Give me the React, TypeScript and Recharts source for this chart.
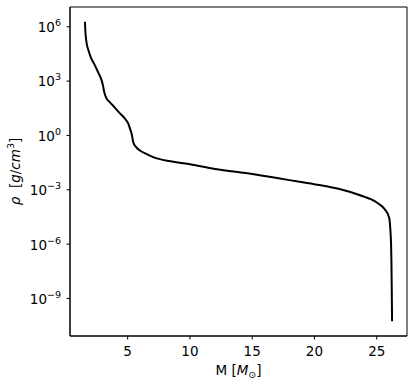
import { LineChart, Line, XAxis, YAxis, ReferenceArea } from 'recharts'

// enclosed mass [M_sun]
const mass = [
  1.57, 1.6, 1.68, 1.85, 2.05, 2.37, 2.65, 2.91, 3.02, 3.12, 3.3, 3.58, 3.95, 4.38, 4.75, 5.05, 5.2,
  5.32, 5.45, 5.65, 5.99, 6.5, 7.06, 8.43, 9.9, 12.0, 15.0, 17.0, 18.8, 20.4, 22.0, 23.6, 25.0,
  25.64, 26.0, 26.1, 26.15, 26.18, 26.2, 26.22, 26.23,
]
// log10 of density [g/cm^3]
const logRho = [
  6.28, 5.8, 5.2, 4.7, 4.3, 3.87, 3.45, 3.04, 2.75, 2.39, 2.05, 1.83, 1.55, 1.22, 0.95, 0.65, 0.35,
  0.09, -0.37, -0.62, -0.83, -1.02, -1.2, -1.43, -1.58, -1.85, -2.13, -2.35, -2.56, -2.74, -2.96,
  -3.29, -3.7, -4.07, -4.54, -5.28, -6.0, -7.0, -8.2, -9.4, -10.25,
]
const xTicks = [5, 10, 15, 20, 25]
const yTickExps = [-9, -6, -3, 0, 3, 6]

const data = mass.map((m, i) => ({ m, rho: Math.pow(10, logRho[i]) }))
const yTicks = yTickExps.map((e) => Math.pow(10, e))

const FONT = 'DejaVu Sans'
const FS = 13.5
const xDomain = [0.37, 27.43]
const yDomain = [Math.pow(10, -11.07), Math.pow(10, 7.09)]

function XTick({ x, y, payload }: any) {
  return (
    <text x={x} y={y} dy="0.71em" textAnchor="middle" fontSize={FS} fontFamily={FONT} fill="#000">
      {payload.value}
    </text>
  )
}

function YTick({ x, y, payload }: any) {
  const e = Math.round(Math.log10(payload.value))
  const s = e < 0 ? '\u2212' + Math.abs(e) : String(e)
  return (
    <text x={x} y={y} textAnchor="end" fontSize={FS} fontFamily={FONT} fill="#000">
      <tspan dy={5.4}>10</tspan>
      <tspan dy={-6} fontSize={9.5}>
        {s}
      </tspan>
    </text>
  )
}

function XLabel({ viewBox }: any) {
  const cx = viewBox.x + viewBox.width / 2
  return (
    <text x={cx} y={viewBox.y + 39} textAnchor="middle" fontSize={FS} fontFamily={FONT} fill="#000">
      <tspan>M [</tspan>
      <tspan fontStyle="italic">M</tspan>
      <tspan fontSize={9.5} dy={3}>{'\u2299'}</tspan>
      <tspan dy={-3}>]</tspan>
    </text>
  )
}

function YLabel({ viewBox }: any) {
  const x = viewBox.x + 15
  const y = viewBox.y + viewBox.height / 2
  return (
    <text
      x={x}
      y={y}
      textAnchor="middle"
      dominantBaseline="central"
      transform={`rotate(-90, ${x}, ${y})`}
      fontSize={FS}
      fontFamily={FONT}
      fill="#000"
    >
      <tspan fontStyle="italic">ρ</tspan>
      <tspan xmlSpace="preserve">{'  ['}</tspan>
      <tspan fontStyle="italic">g</tspan>
      <tspan>/</tspan>
      <tspan fontStyle="italic">cm</tspan>
      <tspan fontSize={9.5} dy={-5}>3</tspan>
      <tspan dy={5}>]</tspan>
    </text>
  )
}

const spine = { stroke: '#000', strokeWidth: 1 }

export default function App() {
  return (
    <div style={{ position: 'absolute', left: 0, top: 0, background: '#fff' }}>
      <LineChart width={415} height={385} data={data} margin={{ top: 7, right: 8, bottom: 0, left: 0 }}>
        <XAxis
          dataKey="m"
          type="number"
          domain={xDomain}
          allowDataOverflow
          ticks={xTicks}
          tickSize={3.5}
          tickMargin={6.5}
          height={49}
          axisLine={spine}
          tickLine={spine}
          tick={<XTick />}
          label={{ content: (p: any) => <XLabel viewBox={p.viewBox} /> }}
        />
        <YAxis
          dataKey="rho"
          type="number"
          scale="log"
          domain={yDomain}
          allowDataOverflow
          ticks={yTicks}
          interval={0}
          tickSize={3.5}
          tickMargin={5.5}
          width={70}
          axisLine={spine}
          tickLine={spine}
          tick={<YTick />}
          label={{ content: (p: any) => <YLabel viewBox={p.viewBox} /> }}
        />
        {/* frame around the axes box (top and right spines) */}
        <ReferenceArea
          x1={xDomain[0]}
          x2={xDomain[1]}
          y1={yDomain[0]}
          y2={yDomain[1]}
          fill="#fff"
          fillOpacity={0}
          stroke="#000"
          strokeWidth={1}
          ifOverflow="visible"
        />
        <Line
          type="monotone"
          dataKey="rho"
          stroke="#000"
          strokeWidth={2}
          dot={false}
          isAnimationActive={false}
        />
      </LineChart>
    </div>
  )
}
